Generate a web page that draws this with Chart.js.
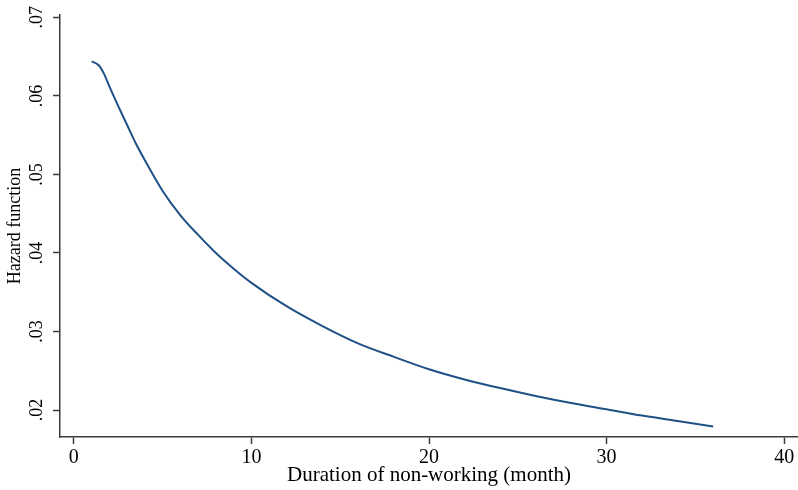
<!DOCTYPE html>
<html lang="en">
<head>
    <meta charset="UTF-8">
    <title>Hazard function</title>
    <script src="https://cdn.jsdelivr.net/npm/chart.js@4/dist/chart.umd.min.js"></script>
    <style>
        body { margin: 0; background: #fff; }
        #chart { display: block; }
    </style>
</head>
<body>
    <canvas id="chart" width="798" height="490"></canvas>
    <script>
        // months of non-working and the estimated hazard
        let months = [1, 1.4, 1.7, 2, 2.5, 3, 3.5, 4, 5, 6, 7, 8, 9, 10, 12, 14, 16, 18, 20, 22, 24, 26, 28, 30, 32, 34, 36];
        let hazard = [0.0644, 0.0639, 0.0628, 0.0612, 0.0587, 0.0563, 0.0539, 0.0518, 0.0479, 0.0448, 0.0423, 0.0400, 0.0380, 0.0362,
                      0.0332, 0.0307, 0.0285, 0.0268, 0.0252, 0.0239, 0.0228, 0.0218, 0.0209, 0.0201, 0.0193, 0.0186, 0.0179];

        let xTicks = [0, 10, 20, 30, 40];
        let yTicks = [0.02, 0.03, 0.04, 0.05, 0.06, 0.07];
        let yTickLabels = ['.02', '.03', '.04', '.05', '.06', '.07'];

        let axisColor = '#3c3c3c';
        let lineColor = '#1f5086';

        let points = months.map((m, i) => ({ x: m, y: hazard[i] }));

        new Chart(document.getElementById('chart'), {
            type: 'line',
            data: {
                datasets: [{
                    data: points,
                    borderColor: lineColor,
                    borderWidth: 2,
                    pointRadius: 0,
                    cubicInterpolationMode: 'monotone',
                    fill: false,
                }]
            },
            options: {
                responsive: false,
                animation: false,
                layout: { padding: { top: 15, left: 0, right: 0, bottom: 0 } },
                plugins: {
                    legend: { display: false },
                    tooltip: { enabled: false },
                },
                scales: {
                    x: {
                        type: 'linear',
                        min: -0.78,
                        max: 40.78,
                        afterBuildTicks: (scale) => { scale.ticks = xTicks.map(v => ({ value: v })); },
                        afterFit: (scale) => { scale.height = 53; },
                        border: { display: true, color: axisColor, width: 1.5 },
                        grid: { drawOnChartArea: false, drawTicks: true, tickLength: 7, color: axisColor, tickWidth: 1.5 },
                        ticks: {
                            color: '#000',
                            padding: 2,
                            maxRotation: 0,
                            font: { family: 'Liberation Serif', size: 20 },
                        },
                        title: {
                            display: true,
                            text: 'Duration of non-working (month)',
                            color: '#000',
                            font: { family: 'Liberation Serif', size: 21 },
                            padding: { top: 0, bottom: 2 },
                        },
                    },
                    y: {
                        min: 0.01657,
                        max: 0.0703,
                        afterBuildTicks: (scale) => { scale.ticks = yTicks.map(v => ({ value: v })); },
                        afterFit: (scale) => { scale.width = 60; },
                        border: { display: true, color: axisColor, width: 1.5 },
                        grid: { drawOnChartArea: false, drawTicks: true, tickLength: 7, color: axisColor, tickWidth: 1.5 },
                        ticks: {
                            color: '#000',
                            padding: 4,
                            minRotation: 90,
                            maxRotation: 90,
                            crossAlign: 'center',
                            font: { family: 'Liberation Serif', size: 18 },
                            callback: (value) => {
                                let i = yTicks.indexOf(value);
                                return i >= 0 ? yTickLabels[i] : '';
                            },
                        },
                        title: {
                            display: true,
                            text: 'Hazard function',
                            color: '#000',
                            font: { family: 'Liberation Serif', size: 18 },
                            padding: { top: 4, bottom: 0 },
                        },
                    },
                }
            }
        });
    </script>
</body>
</html>
